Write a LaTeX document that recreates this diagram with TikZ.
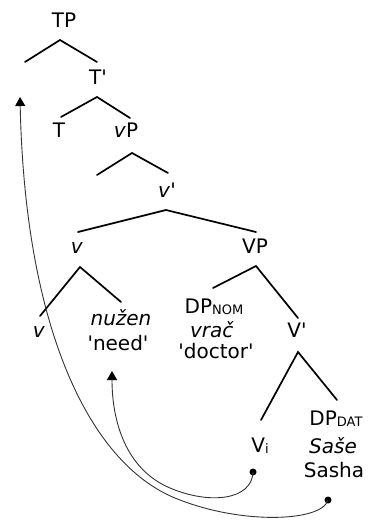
\documentclass[tikz,border=0pt]{standalone}
\usepackage{fontspec}
\setmainfont{DejaVu Sans}[Ligatures=TeXOff]
\usetikzlibrary{arrows.meta}
\tikzset{
  lbl/.style={anchor=base, inner sep=0pt, font=\fontsize{20}{24}\selectfont},
  branch/.style={line width=1.7pt, line cap=round},
  move/.style={line width=0.9pt, draw=black!80, -{Triangle[length=9pt,width=10pt,color=black]}},
  trace/.style={circle, fill=black, inner sep=0pt, minimum size=7pt},
}
\newcommand{\sbs}[1]{\raisebox{-1.5pt}{\fontsize{13}{13}\selectfont #1}}
\begin{document}
\begin{tikzpicture}[x=1pt, y=-1pt]
\useasboundingbox (0,0) rectangle (369,521);
% labels
\node[lbl] (TP) at (64,28) {TP};
\node[lbl] (Tbar) at (98,85) {T'};
\node[lbl] (T) at (59,138) {T};
\node[lbl] (vP) at (126,138) {\textit{v}P};
\node[lbl] (vbar) at (167,197) {\textit{v}'};
\node[lbl] (v1) at (77,253) {\textit{v}};
\node[lbl] (VP) at (255,253) {VP};
\node[lbl] (v2) at (39,337) {\textit{v}};
\node[lbl] (nuzen) at (121,325) {\textit{nužen}};
\node[lbl] (need) at (118,350) {'need'};
\node[lbl] (DPnom) at (214,313) {DP\sbs{NOM}};
\node[lbl] (vrac) at (212,337) {\textit{vrač}};
\node[lbl] (doctor) at (216,358) {'doctor'};
\node[lbl] (Vbar) at (297,337) {V'};
\node[lbl] (Vi) at (260,452) {V\sbs{i}};
\node[lbl] (DPdat) at (336,425) {DP\sbs{DAT}};
\node[lbl] (Sase) at (333,453) {\textit{Saše}};
\node[lbl] (Sasha) at (334,477) {Sasha};
% branch points
\coordinate (a1) at (60,40);  \coordinate (l1) at (25,62);  \coordinate (r1) at (97,62);
\coordinate (a2) at (97,97);  \coordinate (l2) at (61,117); \coordinate (r2) at (130,118);
\coordinate (a3) at (132,153); \coordinate (l3) at (97,175); \coordinate (r3) at (168,173);
\coordinate (a4) at (166,210); \coordinate (l4) at (78,232); \coordinate (r4) at (256,232);
\coordinate (a5) at (80,267); \coordinate (l5) at (40,316); \coordinate (r5) at (121,302);
\coordinate (a6) at (256,266); \coordinate (l6) at (213,288); \coordinate (r6) at (298,318);
\coordinate (a7) at (298,352); \coordinate (l7) at (261,420); \coordinate (r7) at (337,400);
\foreach \i in {1,...,7} {\draw[branch] (l\i) -- (a\i) -- (r\i);}
% traces
\node[trace] (t1) at (253,472) {};
\node[trace] (t2) at (328,500) {};
\coordinate (g1) at (112,371);
\coordinate (g2) at (20,97);
\draw[move] (t1.center) .. controls (252,500) and (210,505) .. (170,488)
  .. controls (125,469) and (112,420) .. (g1);
\draw[move] (t2.center) .. controls (322,522) and (240,525) .. (175,498)
  .. controls (90,463) and (25,330) .. (g2);
\end{tikzpicture}
\end{document}
